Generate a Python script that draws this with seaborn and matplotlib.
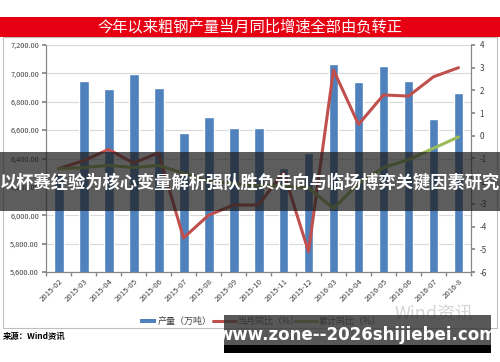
import matplotlib
matplotlib.use("Agg")
import matplotlib.pyplot as plt
import seaborn as sns
import numpy as np
import pandas as pd
from matplotlib.patches import Rectangle

months = ["2015-02", "2015-03", "2015-04", "2015-05", "2015-06", "2015-07",
          "2015-08", "2015-09", "2015-10", "2015-11", "2015-12", "2016-03",
          "2016-04", "2016-05", "2016-06", "2016-07", "2016-8"]
output = [6290, 6949, 6892, 6996, 6897, 6582, 6693, 6613, 6615, 6333,
          6439, 7064, 6941, 7052, 6949, 6678, 6860]
monthly_yoy = [-1.45, -1.1, -0.6, -1.2, -0.75, -4.5, -3.5, -3.05, -3.05,
               -1.6, -5.1, 2.9, 0.5, 1.8, 1.75, 2.6, 3.0]
cumulative_yoy = [-1.45, -1.4, -1.3, -1.4, -1.3, -1.65, -2.0, -2.1, -2.2,
                  -2.2, -2.3, -3.2, -2.1, -1.4, -1.05, -0.55, -0.05]

title = "今年以来粗钢产量当月同比增速全部由负转正"
overlay_text = "以杯赛经验为核心变量解析强队胜负走向与临场博弈关键因素研究"
site_text = "www.zone--2026shijiebei.com"

sns.set_theme(style="white")
plt.rcParams["font.family"] = ["Noto Sans CJK SC", "DejaVu Sans"]

df = pd.DataFrame({"month": months, "output": output,
                   "monthly": monthly_yoy, "cumulative": cumulative_yoy})
df["pos"] = np.arange(len(df))

fig = plt.figure(figsize=(5.0, 3.62), dpi=100)
W, H = 500, 362

def fx(px):
    return px / W

def fy(py):
    return 1 - py / H

# chart frame (behind the axes)
fig.patches.append(Rectangle((fx(3), fy(328)), fx(494), 291 / H, transform=fig.transFigure,
                             facecolor="none", edgecolor="#BFBFBF", lw=0.8, zorder=-1))

ax = fig.add_axes([fx(46), fy(272), fx(471) - fx(46), (272 - 45) / H])
ax.set_facecolor("none")
sns.barplot(data=df, x="month", y="output", color="#4F81BD", width=0.4,
            saturation=1, ax=ax, zorder=2)
ax.set_ylim(5600, 7200)
ax.set_xlim(-0.5, len(df) - 0.5)
ax.set_yticks(np.arange(5600, 7201, 200))
ax.set_yticklabels([f"{v:,.2f}" for v in np.arange(5600, 7201, 200)], fontsize=5.3, color="#404040")
ax.yaxis.grid(True, color="#D9D9D9", lw=0.8, zorder=0)
ax.set_axisbelow(True)
ax.set_xlabel("")
ax.set_ylabel("")
ax.set_xticks(df["pos"])
ax.set_xticklabels(months, rotation=45, ha="right", rotation_mode="anchor",
                   fontsize=5.6, color="#404040")
ax.set_xticks(np.arange(-0.5, len(df), 1), minor=True)
ax.tick_params(axis="x", which="major", length=0, pad=4)
ax.tick_params(axis="x", which="minor", length=3, color="#868686", direction="out", bottom=True)
ax.tick_params(axis="y", length=3, color="#868686", direction="out", left=True, pad=2)
for s in ["left", "right", "bottom"]:
    ax.spines[s].set_color("#868686")
    ax.spines[s].set_linewidth(0.8)
ax.spines["top"].set_visible(False)

ax2 = ax.twinx()
sns.lineplot(data=df, x="pos", y="monthly", color="#C0504D", lw=2.2, ax=ax2, zorder=3)
sns.lineplot(data=df, x="pos", y="cumulative", color="#9BBB59", lw=2.2, ax=ax2, zorder=3)
ax2.set_ylim(-6, 4)
ax2.set_yticks(np.arange(-6, 5, 1))
ax2.set_yticklabels([str(v) for v in range(-6, 5)], fontsize=5.8, color="#404040")
ax2.set_xlim(-0.5, len(df) - 0.5)
ax2.set_ylabel("")
ax2.set_xlabel("")
ax2.tick_params(axis="y", length=3, color="#868686", direction="out", right=True, pad=3)
for s in ["left", "right", "bottom"]:
    ax2.spines[s].set_color("#868686")
    ax2.spines[s].set_linewidth(0.8)
ax2.spines["top"].set_visible(False)
ax2.grid(False)

# legend
lx, ly = 140, 321
fig.patches.append(Rectangle((fx(lx), fy(ly + 2)), fx(16), 4 / H, transform=fig.transFigure,
                             facecolor="#4F81BD", edgecolor="none"))
fig.text(fx(lx + 18), fy(ly), "产量（万吨）", fontsize=6.5, va="center", color="#404040")
fig.lines.append(plt.Line2D([fx(213), fx(236)], [fy(ly), fy(ly)], transform=fig.transFigure,
                            color="#C0504D", lw=2.2))
fig.text(fx(238), fy(ly), "当月同比（%）", fontsize=6.5, va="center", color="#404040")
fig.lines.append(plt.Line2D([fx(295), fx(317)], [fy(ly), fy(ly)], transform=fig.transFigure,
                            color="#9BBB59", lw=2.2))
fig.text(fx(319), fy(ly), "累计同比（%）", fontsize=6.5, va="center", color="#404040")
fig.text(fx(395), fy(315), "Wind资讯", fontsize=13, va="center", color="#D4D4D4")

fig.text(fx(3), fy(336), "来源：Wind资讯", fontsize=6, fontweight="bold", va="center", color="black")

# title banner
fig.patches.append(Rectangle((0, fy(37)), 1, 20 / H, transform=fig.transFigure,
                             facecolor="#E60012", edgecolor="none", zorder=5))
fig.text(0.5, fy(27), title, fontsize=11, color="white", ha="center", va="center", zorder=6)

# dark overlay band
fig.patches.append(Rectangle((0, fy(211)), 1, 59 / H, transform=fig.transFigure,
                             facecolor="#1E1E1E", alpha=0.72, edgecolor="none", zorder=10))
fig.text(0.5, fy(183), overlay_text, fontsize=12.4, fontweight="bold", color="white",
         ha="center", va="center", zorder=11)

# site watermark
fig.patches.append(Rectangle((fx(224), fy(345)), fx(267), 30 / H, transform=fig.transFigure,
                             facecolor="#333333", alpha=0.82, edgecolor="none", zorder=10))
fig.patches.append(Rectangle((fx(224), fy(353)), fx(267), 8 / H, transform=fig.transFigure,
                             facecolor="black", edgecolor="none", zorder=10))
fig.text(fx(357), fy(335), site_text, fontsize=12, fontweight="bold", color="white",
         ha="center", va="center", zorder=11, family=["DejaVu Sans"])

fig.savefig("out.png", dpi=100)
